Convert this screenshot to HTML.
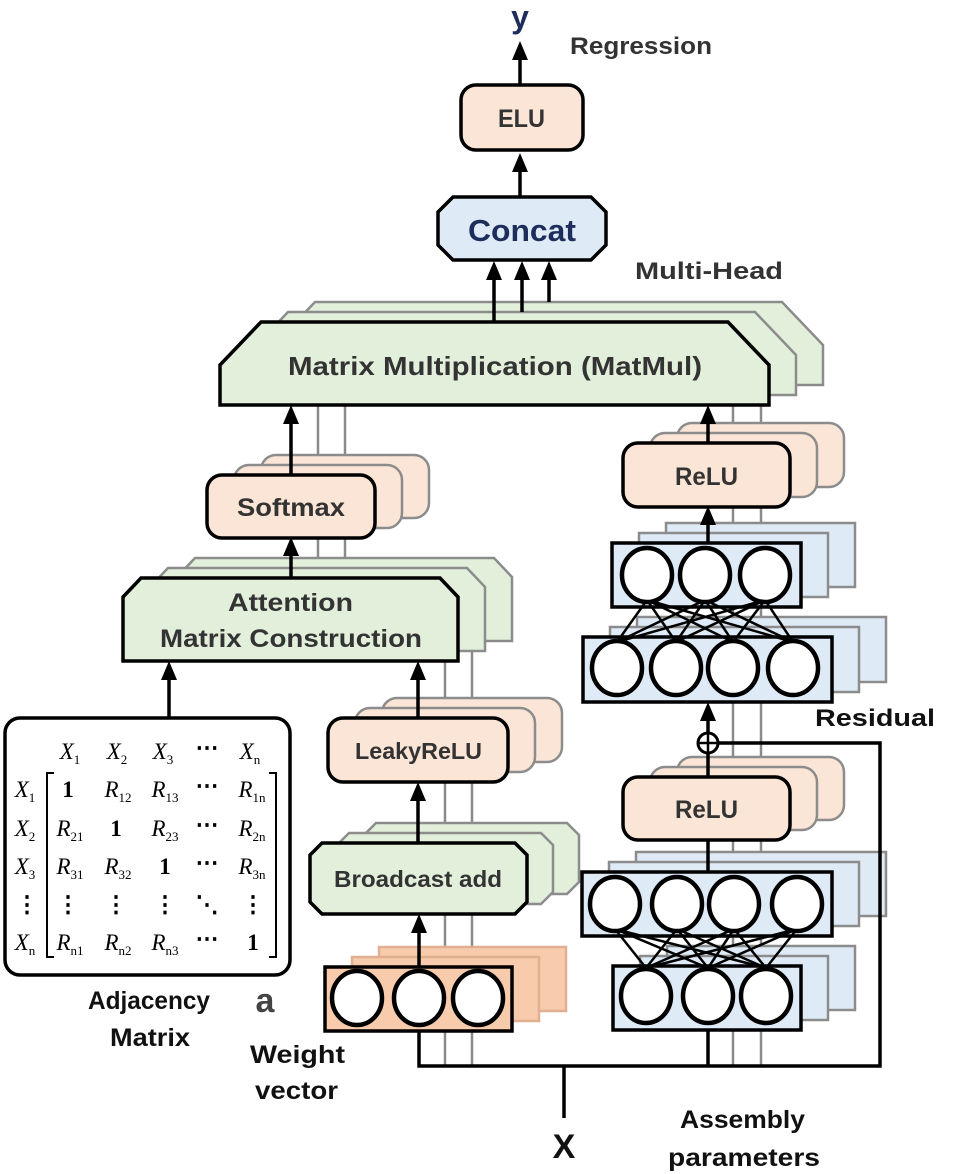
<!DOCTYPE html>
<html><head><meta charset="utf-8"><style>
html,body{margin:0;padding:0;background:#fff}
svg{display:block}
.lb{font-family:"Liberation Sans",sans-serif;font-weight:bold;fill:#333}
.bk{font-family:"Liberation Sans",sans-serif;font-weight:bold;fill:#111}
.m{font-family:"Liberation Serif",serif;font-style:italic;font-size:23px;fill:#000}
.s{font-size:13px;font-style:normal}
.b{font-family:"Liberation Serif",serif;font-weight:bold;font-size:23px;fill:#000}
</style></head><body>
<svg width="955" height="1174" viewBox="0 0 955 1174" xmlns="http://www.w3.org/2000/svg">
<defs>
<g id="ah"><polygon points="-8,0 8,0 0,-19" fill="#000"/></g>
</defs>
<g stroke="#8a8a8a" stroke-width="2.5" fill="none">
<line x1="318" y1="400" x2="318" y2="580"/><line x1="345" y1="395" x2="345" y2="570"/>
<line x1="445" y1="655" x2="445" y2="1066"/><line x1="472" y1="645" x2="472" y2="1066"/>
<line x1="733" y1="400" x2="733" y2="1066"/><line x1="761" y1="395" x2="761" y2="1066"/>
</g>
<g stroke="#8c8c8c" stroke-width="2.5">
<polygon points="274,345 315,302 782,302 823,345 823,385 274,385" fill="#e2efda"/>
<polygon points="247,355 288,312 755,312 796,355 796,395 247,395" fill="#e2efda"/>
<polygon points="177,577 195,558 494,558 512,577 512,641 177,641" fill="#e2efda"/>
<polygon points="150,587 168,568 467,568 485,587 485,651 150,651" fill="#e2efda"/>
<polygon points="364,835 376,823 567,823 579,835 579,882 567,894 376,894 364,882" fill="#e2efda"/>
<polygon points="337,845 349,833 541,833 553,845 553,892 541,904 349,904 337,892" fill="#e2efda"/>
<rect x="261" y="455" width="168" height="63" rx="15" fill="#fbe5d6"/>
<rect x="234" y="465" width="168" height="63" rx="15" fill="#fbe5d6"/>
<rect x="382" y="698" width="180" height="64" rx="15" fill="#fbe5d6"/>
<rect x="355" y="708" width="180" height="64" rx="15" fill="#fbe5d6"/>
<rect x="677" y="423" width="167" height="64" rx="15" fill="#fbe5d6"/>
<rect x="650" y="433" width="167" height="64" rx="15" fill="#fbe5d6"/>
<rect x="677" y="757" width="167" height="63" rx="15" fill="#fbe5d6"/>
<rect x="650" y="767" width="167" height="63" rx="15" fill="#fbe5d6"/>
<rect x="379" y="947" width="187" height="64" fill="#f8cbad" stroke="#e0b090"/>
<rect x="352" y="957" width="187" height="64" fill="#f8cbad" stroke="#e0b090"/>
<rect x="666" y="523" width="189" height="64" fill="#deebf7"/>
<rect x="639" y="533" width="189" height="64" fill="#deebf7"/>
<rect x="637" y="617" width="249" height="65" fill="#deebf7"/>
<rect x="610" y="627" width="249" height="65" fill="#deebf7"/>
<rect x="636" y="852" width="250" height="64" fill="#deebf7"/>
<rect x="609" y="862" width="250" height="64" fill="#deebf7"/>
<rect x="667" y="946" width="188" height="64" fill="#deebf7"/>
<rect x="640" y="956" width="188" height="64" fill="#deebf7"/>
</g>
<g stroke="#000" stroke-width="3.5" fill="none">
<line x1="520" y1="85" x2="520" y2="50"/>
<line x1="520" y1="197" x2="520" y2="160"/>
<line x1="494" y1="322" x2="494" y2="270"/>
<line x1="522" y1="312" x2="522" y2="270"/>
<line x1="549" y1="302" x2="549" y2="270"/>
<line x1="291" y1="475" x2="291" y2="415"/>
<line x1="291" y1="578" x2="291" y2="548"/>
<line x1="169" y1="718" x2="169" y2="671"/>
<line x1="418" y1="718" x2="418" y2="671"/>
<line x1="418" y1="843" x2="418" y2="792"/>
<line x1="419" y1="967" x2="419" y2="924"/>
<line x1="708" y1="443" x2="708" y2="415"/>
<line x1="708" y1="543" x2="708" y2="517"/>
<line x1="708" y1="733" x2="708" y2="712"/>
<line x1="708" y1="753" x2="708" y2="777"/>
<line x1="708" y1="840" x2="708" y2="872"/>
<polyline points="419,1031 419,1066 880,1066 880,743 718,743"/>
<line x1="708" y1="1030" x2="708" y2="1066"/>
<line x1="564" y1="1066" x2="564" y2="1118"/>
</g>
<circle cx="708" cy="743" r="10" fill="#fff" stroke="#000" stroke-width="3"/>
<line x1="698" y1="743" x2="718" y2="743" stroke="#000" stroke-width="2.5"/>
<line x1="708" y1="733" x2="708" y2="753" stroke="#000" stroke-width="2.5"/>
<use href="#ah" x="520" y="60"/><use href="#ah" x="520" y="172"/>
<use href="#ah" x="494" y="280"/><use href="#ah" x="522" y="280"/><use href="#ah" x="549" y="280"/>
<use href="#ah" x="291" y="424"/><use href="#ah" x="291" y="556"/>
<use href="#ah" x="169" y="680"/><use href="#ah" x="418" y="680"/>
<use href="#ah" x="418" y="801"/><use href="#ah" x="419" y="933"/>
<use href="#ah" x="708" y="424"/><use href="#ah" x="708" y="525"/><use href="#ah" x="708" y="721"/>
<g stroke="#000" stroke-width="3.5">
<rect x="461" y="85" width="122" height="65" rx="15" fill="#fbe5d6"/>
<polygon points="438,212 453,197 591,197 606,212 606,245 591,260 453,260 438,245" fill="#deebf7"/>
<polygon points="220,365 261,322 728,322 769,365 769,405 220,405" fill="#e2efda"/>
<rect x="207" y="475" width="168" height="63" rx="15" fill="#fbe5d6"/>
<polygon points="123,597 141,578 440,578 458,597 458,661 123,661" fill="#e2efda"/>
<rect x="328" y="718" width="180" height="64" rx="15" fill="#fbe5d6"/>
<polygon points="310,855 322,843 515,843 527,855 527,902 515,914 322,914 310,902" fill="#e2efda"/>
<rect x="325" y="967" width="187" height="64" fill="#f8cbad"/>
<rect x="623" y="443" width="167" height="64" rx="15" fill="#fbe5d6"/>
<rect x="612" y="543" width="189" height="64" fill="#deebf7"/>
<rect x="583" y="637" width="249" height="65" fill="#deebf7"/>
<rect x="623" y="777" width="167" height="63" rx="15" fill="#fbe5d6"/>
<rect x="582" y="872" width="250" height="64" fill="#deebf7"/>
<rect x="613" y="966" width="188" height="64" fill="#deebf7"/>
<rect x="5" y="718" width="285" height="257" rx="15" fill="#fff"/>
</g>
<g stroke="#000" stroke-width="2.5">
<g><line x1="617" y1="642" x2="647" y2="600"/><line x1="617" y1="642" x2="705" y2="600"/><line x1="617" y1="642" x2="765" y2="600"/>
<line x1="676" y1="642" x2="647" y2="600"/><line x1="676" y1="642" x2="705" y2="600"/><line x1="676" y1="642" x2="765" y2="600"/>
<line x1="733" y1="642" x2="647" y2="600"/><line x1="733" y1="642" x2="705" y2="600"/><line x1="733" y1="642" x2="765" y2="600"/>
<line x1="793" y1="642" x2="647" y2="600"/><line x1="793" y1="642" x2="705" y2="600"/><line x1="793" y1="642" x2="765" y2="600"/></g>
<g><line x1="646" y1="968" x2="615" y2="929"/><line x1="646" y1="968" x2="677" y2="929"/><line x1="646" y1="968" x2="734" y2="929"/><line x1="646" y1="968" x2="797" y2="929"/>
<line x1="708" y1="968" x2="615" y2="929"/><line x1="708" y1="968" x2="677" y2="929"/><line x1="708" y1="968" x2="734" y2="929"/><line x1="708" y1="968" x2="797" y2="929"/>
<line x1="766" y1="968" x2="615" y2="929"/><line x1="766" y1="968" x2="677" y2="929"/><line x1="766" y1="968" x2="734" y2="929"/><line x1="766" y1="968" x2="797" y2="929"/></g>
</g>
<g fill="#fff" stroke="#000" stroke-width="4.5">
<ellipse cx="647" cy="575" rx="25" ry="27"/><ellipse cx="705" cy="575" rx="25" ry="27"/><ellipse cx="765" cy="575" rx="25" ry="27"/>
<ellipse cx="617" cy="668" rx="25" ry="27"/><ellipse cx="676" cy="668" rx="25" ry="27"/><ellipse cx="733" cy="668" rx="25" ry="27"/><ellipse cx="793" cy="668" rx="25" ry="27"/>
<ellipse cx="615" cy="904" rx="25" ry="27"/><ellipse cx="677" cy="904" rx="25" ry="27"/><ellipse cx="734" cy="904" rx="25" ry="27"/><ellipse cx="797" cy="904" rx="25" ry="27"/>
<ellipse cx="646" cy="996" rx="25" ry="27"/><ellipse cx="708" cy="996" rx="25" ry="27"/><ellipse cx="766" cy="996" rx="25" ry="27"/>
<ellipse cx="357" cy="998" rx="25" ry="27"/><ellipse cx="419" cy="998" rx="25" ry="27"/><ellipse cx="478" cy="998" rx="25" ry="27"/>
</g>
<g lengthAdjust="spacingAndGlyphs">
<text x="520" y="28" text-anchor="middle" font-family="Liberation Sans,sans-serif" font-weight="bold" font-size="32" fill="#1f2d5c">y</text>
<text x="570" y="54" class="lb" font-size="24" textLength="142" lengthAdjust="spacingAndGlyphs">Regression</text>
<text x="498" y="127" class="lb" font-size="25" textLength="47" lengthAdjust="spacingAndGlyphs">ELU</text>
<text x="468" y="241" font-family="Liberation Sans,sans-serif" font-weight="bold" font-size="31" fill="#1f2d5c" textLength="108" lengthAdjust="spacingAndGlyphs">Concat</text>
<text x="635" y="279" class="lb" font-size="24" textLength="148" lengthAdjust="spacingAndGlyphs">Multi-Head</text>
<text x="288" y="375" class="lb" font-size="26" textLength="414" lengthAdjust="spacingAndGlyphs">Matrix Multiplication (MatMul)</text>
<text x="237" y="516" class="lb" font-size="25" textLength="108" lengthAdjust="spacingAndGlyphs">Softmax</text>
<text x="228" y="611" class="lb" font-size="25" textLength="125" lengthAdjust="spacingAndGlyphs">Attention</text>
<text x="160" y="647" class="lb" font-size="25" textLength="262" lengthAdjust="spacingAndGlyphs">Matrix Construction</text>
<text x="355" y="759" class="lb" font-size="23" textLength="127" lengthAdjust="spacingAndGlyphs">LeakyReLU</text>
<text x="334" y="887" class="lb" font-size="23" textLength="168" lengthAdjust="spacingAndGlyphs">Broadcast add</text>
<text x="675" y="485" class="lb" font-size="25" textLength="63" lengthAdjust="spacingAndGlyphs">ReLU</text>
<text x="675" y="818" class="lb" font-size="25" textLength="63" lengthAdjust="spacingAndGlyphs">ReLU</text>
<text x="815" y="726" class="bk" font-size="24" textLength="120" lengthAdjust="spacingAndGlyphs">Residual</text>
<text x="265" y="1012" text-anchor="middle" font-family="Liberation Sans,sans-serif" font-weight="bold" font-size="34" fill="#444">a</text>
<text x="250" y="1063" class="bk" font-size="25" textLength="95" lengthAdjust="spacingAndGlyphs">Weight</text>
<text x="255" y="1099" class="bk" font-size="25" textLength="83" lengthAdjust="spacingAndGlyphs">vector</text>
<text x="88" y="1009" class="bk" font-size="25" textLength="122" lengthAdjust="spacingAndGlyphs">Adjacency</text>
<text x="110" y="1046" class="bk" font-size="25" textLength="80" lengthAdjust="spacingAndGlyphs">Matrix</text>
<text x="564" y="1158" text-anchor="middle" class="bk" font-size="34">X</text>
<text x="680" y="1128" class="bk" font-size="25" textLength="125" lengthAdjust="spacingAndGlyphs">Assembly</text>
<text x="668" y="1166" class="bk" font-size="25" textLength="152" lengthAdjust="spacingAndGlyphs">parameters</text>
</g>
<g text-anchor="middle">
<text class="m" x="70" y="759">X<tspan class="s" dy="5">1</tspan></text>
<text class="m" x="117" y="759">X<tspan class="s" dy="5">2</tspan></text>
<text class="m" x="163" y="759">X<tspan class="s" dy="5">3</tspan></text>
<text class="b" x="207" y="755">⋯</text>
<text class="m" x="250" y="759">X<tspan class="s" dy="5">n</tspan></text>
<text class="m" x="25" y="797">X<tspan class="s" dy="5">1</tspan></text>
<text class="m" x="25" y="836">X<tspan class="s" dy="5">2</tspan></text>
<text class="m" x="25" y="874">X<tspan class="s" dy="5">3</tspan></text>
<text class="b" x="27" y="912">⋮</text>
<text class="m" x="25" y="950">X<tspan class="s" dy="5">n</tspan></text>
<text class="b" x="68" y="797">1</text>
<text class="m" x="118" y="797">R<tspan class="s" dy="5">12</tspan></text>
<text class="m" x="165" y="797">R<tspan class="s" dy="5">13</tspan></text>
<text class="b" x="207" y="793">⋯</text>
<text class="m" x="252" y="797">R<tspan class="s" dy="5">1n</tspan></text>
<text class="m" x="70" y="836">R<tspan class="s" dy="5">21</tspan></text>
<text class="b" x="116" y="836">1</text>
<text class="m" x="165" y="836">R<tspan class="s" dy="5">23</tspan></text>
<text class="b" x="207" y="832">⋯</text>
<text class="m" x="252" y="836">R<tspan class="s" dy="5">2n</tspan></text>
<text class="m" x="70" y="874">R<tspan class="s" dy="5">31</tspan></text>
<text class="m" x="118" y="874">R<tspan class="s" dy="5">32</tspan></text>
<text class="b" x="165" y="874">1</text>
<text class="b" x="207" y="870">⋯</text>
<text class="m" x="252" y="874">R<tspan class="s" dy="5">3n</tspan></text>
<text class="b" x="68" y="912">⋮</text><text class="b" x="116" y="912">⋮</text><text class="b" x="165" y="912">⋮</text><text class="b" x="207" y="912">⋱</text><text class="b" x="253" y="912">⋮</text>
<text class="m" x="70" y="950">R<tspan class="s" dy="5">n1</tspan></text>
<text class="m" x="118" y="950">R<tspan class="s" dy="5">n2</tspan></text>
<text class="m" x="165" y="950">R<tspan class="s" dy="5">n3</tspan></text>
<text class="b" x="207" y="946">⋯</text>
<text class="b" x="253" y="950">1</text>
</g>
<polyline points="54,773 47,773 47,957 54,957" fill="none" stroke="#000" stroke-width="2"/>
<polyline points="269,773 276,773 276,957 269,957" fill="none" stroke="#000" stroke-width="2"/>
</svg>
</body></html>
